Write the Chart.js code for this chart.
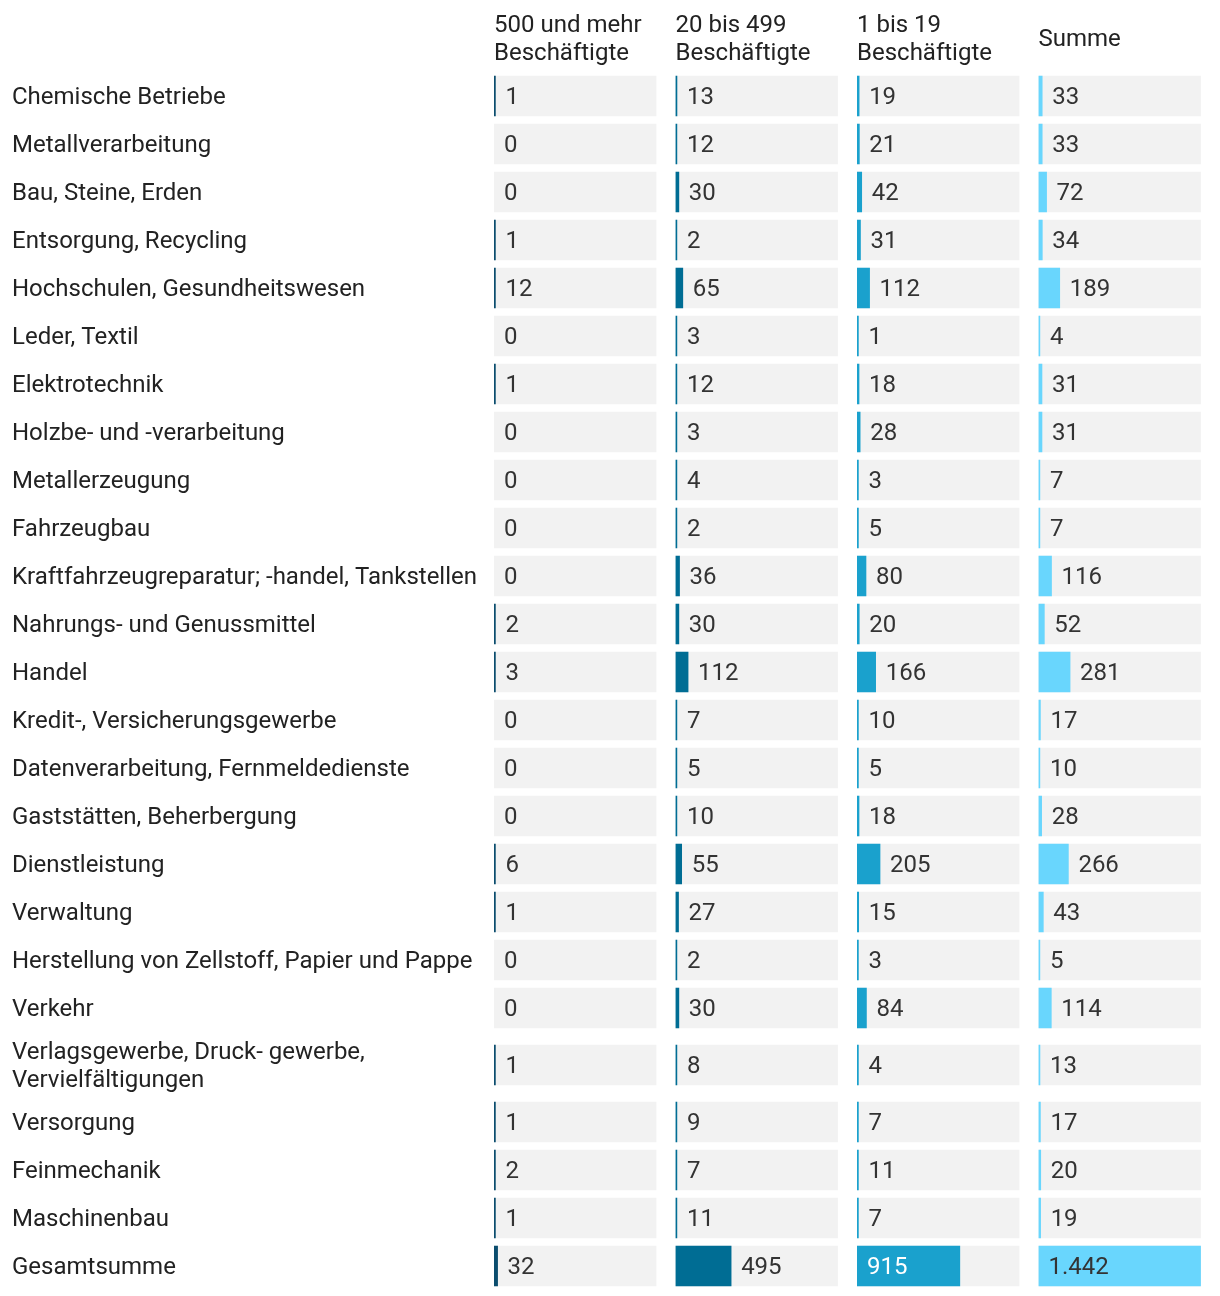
<!DOCTYPE html>
<html lang="de">
<head>
<meta charset="UTF-8">
<title>Betriebe nach Branche und Beschäftigtenzahl</title>
<script src="https://cdn.jsdelivr.net/npm/chart.js"></script>
<style>
    body {
        margin: 0;
        background: #ffffff;
        font-family: Roboto, sans-serif;
    }
    #wrap {
        width: 1220px;
        height: 1296px;
        position: relative;
    }
</style>
</head>
<body>
<div id="wrap"><canvas id="table"></canvas></div>
<script>
    // rows of the table
    const categories = [
        'Chemische Betriebe',
        'Metallverarbeitung',
        'Bau, Steine, Erden',
        'Entsorgung, Recycling',
        'Hochschulen, Gesundheitswesen',
        'Leder, Textil',
        'Elektrotechnik',
        'Holzbe- und -verarbeitung',
        'Metallerzeugung',
        'Fahrzeugbau',
        'Kraftfahrzeugreparatur; -handel, Tankstellen',
        'Nahrungs- und Genussmittel',
        'Handel',
        'Kredit-, Versicherungsgewerbe',
        'Datenverarbeitung, Fernmeldedienste',
        'Gaststätten, Beherbergung',
        'Dienstleistung',
        'Verwaltung',
        'Herstellung von Zellstoff, Papier und Pappe',
        'Verkehr',
        ['Verlagsgewerbe, Druck- gewerbe,', 'Vervielfältigungen'],
        'Versorgung',
        'Feinmechanik',
        'Maschinenbau',
        'Gesamtsumme'
    ];

    // column headers
    const columns = [
        ['500 und mehr', 'Beschäftigte'],
        ['20 bis 499', 'Beschäftigte'],
        ['1 bis 19', 'Beschäftigte'],
        'Summe'
    ];

    const big =   [1, 0, 0, 1, 12, 0, 1, 0, 0, 0, 0, 2, 3, 0, 0, 0, 6, 1, 0, 0, 1, 1, 2, 1, 32];
    const mid =   [13, 12, 30, 2, 65, 3, 12, 3, 4, 2, 36, 30, 112, 7, 5, 10, 55, 27, 2, 30, 8, 9, 7, 11, 495];
    const small = [19, 21, 42, 31, 112, 1, 18, 28, 3, 5, 80, 20, 166, 10, 5, 18, 205, 15, 3, 84, 4, 7, 11, 7, 915];
    const total = [33, 33, 72, 34, 189, 4, 31, 31, 7, 7, 116, 52, 281, 17, 10, 28, 266, 43, 5, 114, 13, 17, 20, 19, 1442];

    const series = [big, mid, small, total];
    const colors = ['#0b4d6e', '#006d94', '#1aa1cd', '#69d6fd'];
    const insideText = ['#ffffff', '#ffffff', '#ffffff', '#333333'];

    const maxVal = Math.max(...series.flat());
    const axisMax = maxVal * 1.12; // leaves the gap between the columns

    const font = { family: 'Roboto', size: 24, lineHeight: 28 / 24 };

    // two-line labels get a slightly taller row
    const rowPos = [];
    let shift = 0;
    categories.forEach((c, i) => {
        const extra = Array.isArray(c) ? (c.length - 1) * 0.375 : 0;
        rowPos.push(i + shift + extra / 2);
        shift += extra;
    });
    const yMin = -0.5;
    const yMax = categories.length - 0.5 + shift;

    const fmt = v => String(v).replace(/\B(?=(\d{3})+(?!\d))/g, '.');

    const datasets = [];
    series.forEach((vals, c) => {
        datasets.push({
            label: 'bg' + c,
            xAxisID: 'x' + c,
            data: vals.map((v, i) => ({ x: maxVal, y: rowPos[i] })),
            backgroundColor: '#f2f2f2',
            order: 2
        });
        datasets.push({
            label: Array.isArray(columns[c]) ? columns[c].join(' ') : columns[c],
            xAxisID: 'x' + c,
            data: vals.map((v, i) => ({ x: v || null, y: rowPos[i] })),
            backgroundColor: colors[c],
            minBarLength: 1.4,
            order: 1
        });
    });

    const scales = {
        y: {
            type: 'linear',
            reverse: true,
            offset: false,
            min: yMin,
            max: yMax,
            grid: { display: false },
            border: { display: false },
            afterBuildTicks: s => { s.ticks = rowPos.map(v => ({ value: v })); },
            afterFit: s => {
                s.width = 482;
                s.paddingTop = 0;
                s.paddingBottom = 0;
            },
            ticks: {
                autoSkip: false,
                crossAlign: 'far',
                labelOffset: 2,
                color: '#222222',
                font: font,
                callback: (v, i) => categories[i]
            }
        }
    };
    // top boxes are laid out right to left, so add the last column first
    for (let c = columns.length - 1; c >= 0; c--) {
        const title = columns[c];
        const twoLines = Array.isArray(title);
        scales['x' + c] = {
            type: 'linear',
            position: 'top',
            stack: 'cols',
            min: 0,
            max: axisMax,
            grid: { display: false, drawTicks: false },
            border: { display: false },
            ticks: { display: false },
            title: {
                display: true,
                text: title,
                align: 'start',
                color: '#222222',
                font: font,
                padding: twoLines ? { top: 12, bottom: 4 } : { top: 26, bottom: 18 }
            }
        };
    }

    const valueLabels = {
        id: 'valueLabels',
        afterDatasetsDraw(chart) {
            const ctx = chart.ctx;
            const y = chart.scales.y;
            ctx.save();
            ctx.font = '24px Roboto';
            ctx.textBaseline = 'middle';
            ctx.textAlign = 'left';
            series.forEach((vals, c) => {
                const x = chart.scales['x' + c];
                const x0 = x.getPixelForValue(0);
                vals.forEach((v, i) => {
                    const py = y.getPixelForValue(rowPos[i]) + 2;
                    if (v / maxVal > 0.5) {
                        ctx.fillStyle = insideText[c];
                        ctx.fillText(fmt(v), x0 + 10, py);
                    } else {
                        ctx.fillStyle = '#333333';
                        const end = Math.max(x.getPixelForValue(v), x0 + (v > 0 ? 1.4 : 0));
                        ctx.fillText(fmt(v), end + 10, py);
                    }
                });
            });
            ctx.restore();
        }
    };

    new Chart(document.getElementById('table'), {
        type: 'bar',
        data: { datasets: datasets },
        options: {
            indexAxis: 'y',
            responsive: true,
            maintainAspectRatio: false,
            animation: false,
            layout: { padding: { left: 12, right: 0, top: 0, bottom: 6 } },
            datasets: {
                bar: { barThickness: 40, grouped: false, borderWidth: 0 }
            },
            scales: scales,
            plugins: {
                legend: { display: false },
                tooltip: { enabled: false }
            }
        },
        plugins: [valueLabels]
    });
</script>
</body>
</html>
